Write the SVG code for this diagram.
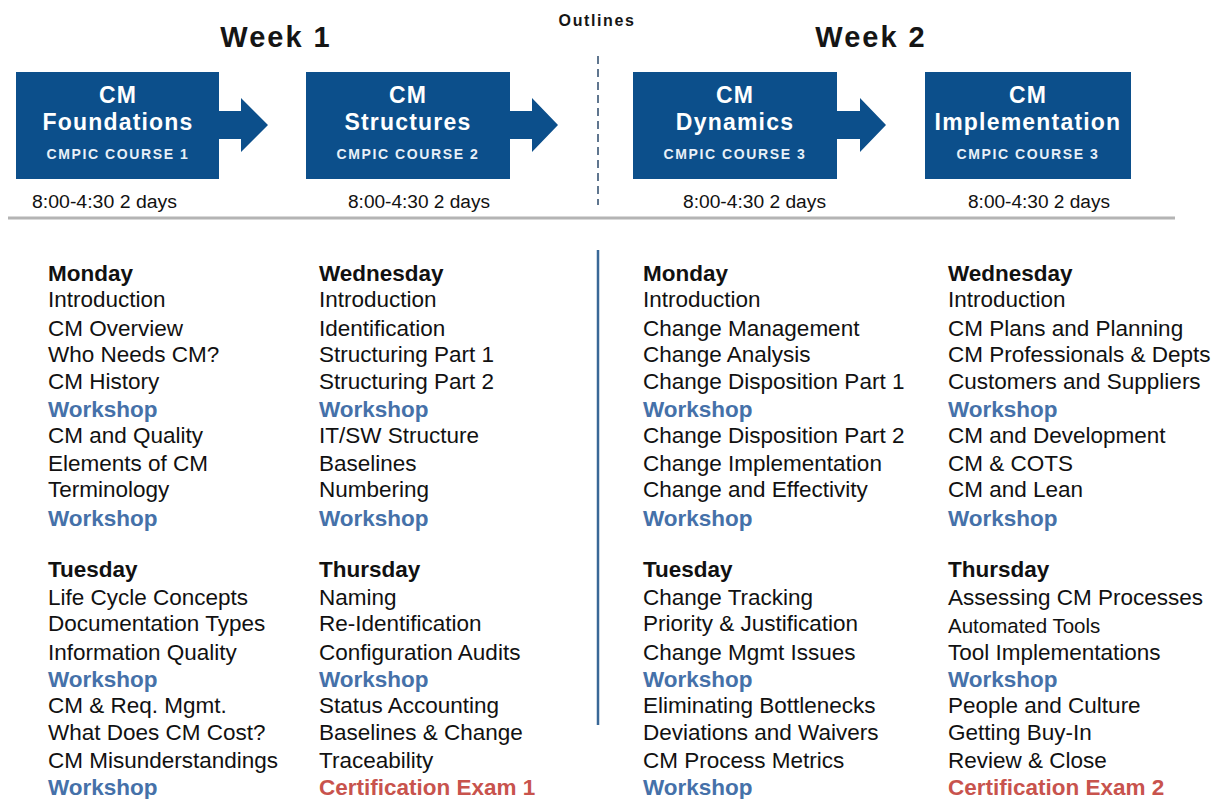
<svg xmlns="http://www.w3.org/2000/svg" width="1211" height="799" viewBox="0 0 1211 799">
<style>
text{font-family:"Liberation Sans",Arial,Helvetica,sans-serif;}
.wk{font-size:29px;font-weight:bold;fill:#151515;letter-spacing:2px;text-anchor:middle;}
.ol{font-size:16px;font-weight:bold;fill:#151515;letter-spacing:1.6px;text-anchor:middle;}
.box{fill:#0c4f8b;}
.bt{font-size:23px;font-weight:bold;fill:#fff;letter-spacing:1.2px;text-anchor:middle;}
.bs{font-size:14px;font-weight:bold;fill:#e8f0f8;letter-spacing:1.6px;text-anchor:middle;}
.dt{font-size:18px;fill:#111;}
.b{font-size:22.5px;fill:#111;}
.h{font-size:22.5px;font-weight:bold;fill:#111;}
.w{font-size:22.5px;font-weight:bold;fill:#4571a9;}
.x{font-size:22.5px;font-weight:bold;fill:#c8534d;}
.sm{font-size:20.5px;fill:#111;}
.arr{fill:#0c4f8b;}
</style>
<text class="ol" x="597" y="26">Outlines</text>
<text class="wk" x="276" y="47">Week 1</text>
<text class="wk" x="871" y="47">Week 2</text>
<g id="box1">
<rect class="box" x="16" y="72" width="203" height="107"/>
<text class="bt" x="118" y="103">CM</text>
<text class="bt" x="118" y="130">Foundations</text>
<text class="bs" x="118" y="159">CMPIC COURSE 1</text>
<text class="dt" x="32" y="208" textLength="145" lengthAdjust="spacingAndGlyphs">8:00-4:30 2 days</text>
</g>
<g id="box2">
<rect class="box" x="306" y="72" width="204" height="107"/>
<text class="bt" x="408" y="103">CM</text>
<text class="bt" x="408" y="130">Structures</text>
<text class="bs" x="408" y="159">CMPIC COURSE 2</text>
<text class="dt" x="348" y="208" textLength="142" lengthAdjust="spacingAndGlyphs">8:00-4:30 2 days</text>
</g>
<g id="box3">
<rect class="box" x="633" y="72" width="204" height="107"/>
<text class="bt" x="735" y="103">CM</text>
<text class="bt" x="735" y="130">Dynamics</text>
<text class="bs" x="735" y="159">CMPIC COURSE 3</text>
<text class="dt" x="683" y="208" textLength="143" lengthAdjust="spacingAndGlyphs">8:00-4:30 2 days</text>
</g>
<g id="box4">
<rect class="box" x="925" y="72" width="206" height="107"/>
<text class="bt" x="1028" y="103">CM</text>
<text class="bt" x="1028" y="130">Implementation</text>
<text class="bs" x="1028" y="159">CMPIC COURSE 3</text>
<text class="dt" x="968" y="208" textLength="142" lengthAdjust="spacingAndGlyphs">8:00-4:30 2 days</text>
</g>
<g id="connectors">
<polygon class="arr" points="218,111 241,111 241,98 268,125 241,152 241,139 218,139"/>
<polygon class="arr" points="509,111 532,111 532,98 558,125 532,152 532,139 509,139"/>
<polygon class="arr" points="836,111 860,111 860,98 886,125 860,152 860,139 836,139"/>
</g>
<g id="dividers">
<line x1="598" y1="56" x2="598" y2="205" stroke="#2c4a6b" stroke-width="1.5" stroke-dasharray="8 5"/>
<line x1="8" y1="218" x2="1175" y2="218" stroke="#b4b4b4" stroke-width="3"/>
<line x1="598" y1="250" x2="598" y2="725" stroke="#3a6897" stroke-width="2.5"/>
</g>
<g id="col1">
<text class="h" x="48" y="281">Monday</text>
<text class="b" x="48" y="307">Introduction</text>
<text class="b" x="48" y="336">CM Overview</text>
<text class="b" x="48" y="362">Who Needs CM?</text>
<text class="b" x="48" y="389">CM History</text>
<text class="w" x="48" y="417">Workshop</text>
<text class="b" x="48" y="443">CM and Quality</text>
<text class="b" x="48" y="471">Elements of CM</text>
<text class="b" x="48" y="497">Terminology</text>
<text class="w" x="48" y="526">Workshop</text>
<text class="h" x="48" y="577">Tuesday</text>
<text class="b" x="48" y="605">Life Cycle Concepts</text>
<text class="b" x="48" y="631">Documentation Types</text>
<text class="b" x="48" y="660">Information Quality</text>
<text class="w" x="48" y="687">Workshop</text>
<text class="b" x="48" y="713">CM &amp; Req. Mgmt.</text>
<text class="b" x="48" y="740">What Does CM Cost?</text>
<text class="b" x="48" y="768">CM Misunderstandings</text>
<text class="w" x="48" y="795">Workshop</text>
</g>
<g id="col2">
<text class="h" x="319" y="281">Wednesday</text>
<text class="b" x="319" y="307">Introduction</text>
<text class="b" x="319" y="336">Identification</text>
<text class="b" x="319" y="362">Structuring Part 1</text>
<text class="b" x="319" y="389">Structuring Part 2</text>
<text class="w" x="319" y="417">Workshop</text>
<text class="b" x="319" y="443">IT/SW Structure</text>
<text class="b" x="319" y="471">Baselines</text>
<text class="b" x="319" y="497">Numbering</text>
<text class="w" x="319" y="526">Workshop</text>
<text class="h" x="319" y="577">Thursday</text>
<text class="b" x="319" y="605">Naming</text>
<text class="b" x="319" y="631">Re-Identification</text>
<text class="b" x="319" y="660">Configuration Audits</text>
<text class="w" x="319" y="687">Workshop</text>
<text class="b" x="319" y="713">Status Accounting</text>
<text class="b" x="319" y="740">Baselines &amp; Change</text>
<text class="b" x="319" y="768">Traceability</text>
<text class="x" x="319" y="795">Certification Exam 1</text>
</g>
<g id="col3">
<text class="h" x="643" y="281">Monday</text>
<text class="b" x="643" y="307">Introduction</text>
<text class="b" x="643" y="336">Change Management</text>
<text class="b" x="643" y="362">Change Analysis</text>
<text class="b" x="643" y="389">Change Disposition Part 1</text>
<text class="w" x="643" y="417">Workshop</text>
<text class="b" x="643" y="443">Change Disposition Part 2</text>
<text class="b" x="643" y="471">Change Implementation</text>
<text class="b" x="643" y="497">Change and Effectivity</text>
<text class="w" x="643" y="526">Workshop</text>
<text class="h" x="643" y="577">Tuesday</text>
<text class="b" x="643" y="605">Change Tracking</text>
<text class="b" x="643" y="631">Priority &amp; Justification</text>
<text class="b" x="643" y="660">Change Mgmt Issues</text>
<text class="w" x="643" y="687">Workshop</text>
<text class="b" x="643" y="713">Eliminating Bottlenecks</text>
<text class="b" x="643" y="740">Deviations and Waivers</text>
<text class="b" x="643" y="768">CM Process Metrics</text>
<text class="w" x="643" y="795">Workshop</text>
</g>
<g id="col4">
<text class="h" x="948" y="281">Wednesday</text>
<text class="b" x="948" y="307">Introduction</text>
<text class="b" x="948" y="336">CM Plans and Planning</text>
<text class="b" x="948" y="362">CM Professionals &amp; Depts</text>
<text class="b" x="948" y="389">Customers and Suppliers</text>
<text class="w" x="948" y="417">Workshop</text>
<text class="b" x="948" y="443">CM and Development</text>
<text class="b" x="948" y="471">CM &amp; COTS</text>
<text class="b" x="948" y="497">CM and Lean</text>
<text class="w" x="948" y="526">Workshop</text>
<text class="h" x="948" y="577">Thursday</text>
<text class="b" x="948" y="605">Assessing CM Processes</text>
<text class="sm" x="948" y="633">Automated Tools</text>
<text class="b" x="948" y="660">Tool Implementations</text>
<text class="w" x="948" y="687">Workshop</text>
<text class="b" x="948" y="713">People and Culture</text>
<text class="b" x="948" y="740">Getting Buy-In</text>
<text class="b" x="948" y="768">Review &amp; Close</text>
<text class="x" x="948" y="795">Certification Exam 2</text>
</g>
</svg>
